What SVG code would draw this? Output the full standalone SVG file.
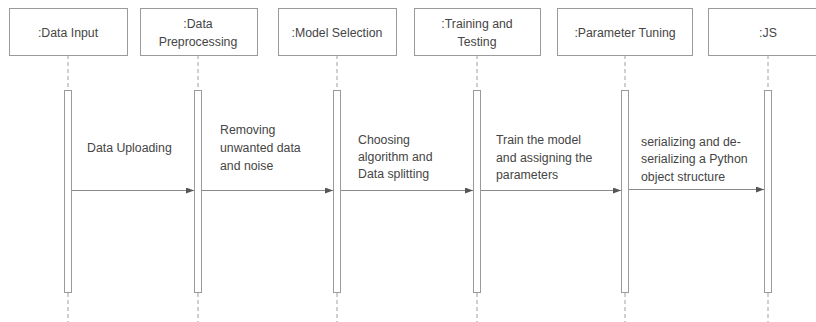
<svg xmlns="http://www.w3.org/2000/svg" width="816" height="322" viewBox="0 0 816 322">
<defs>
<style>
.box{fill:#fff;stroke:#9a9a9a;stroke-width:1}
.life{stroke:#a0a0a0;stroke-width:1;stroke-dasharray:4 3;fill:none}
.act{fill:#fff;stroke:#9a9a9a;stroke-width:1}
.msg{stroke:#8a8a8a;stroke-width:1;fill:none;marker-end:url(#ah)}
text{font-family:"Liberation Sans","Open Sans",sans-serif;font-size:12.3px;fill:#454545}
.c{text-anchor:middle}
</style>
<marker id="ah" viewBox="0 0 8 6" refX="8" refY="3" markerWidth="8" markerHeight="6" markerUnits="userSpaceOnUse" orient="auto">
<path d="M0,0 L8,3 L0,6 z" fill="#555"/>
</marker>
</defs>
<rect width="816" height="322" fill="#fff"/>
<g id="lifelines">
<line class="life" x1="68" y1="55" x2="68" y2="322"/>
<line class="life" x1="198" y1="55" x2="198" y2="322"/>
<line class="life" x1="337" y1="55" x2="337" y2="322"/>
<line class="life" x1="477" y1="55" x2="477" y2="322"/>
<line class="life" x1="625" y1="55" x2="625" y2="322"/>
<line class="life" x1="768" y1="55" x2="768" y2="322"/>
</g>
<g id="n1"><rect class="box" x="9.5" y="8.5" width="118" height="47"/><text class="c" x="68" y="37">:Data Input</text><rect class="act" x="64.5" y="90.5" width="7" height="202"/></g>
<g id="n2"><rect class="box" x="140.5" y="8.5" width="117" height="47"/><text class="c" x="198" y="28">:Data</text><text class="c" x="198" y="46">Preprocessing</text><rect class="act" x="194.5" y="90.5" width="7" height="202"/></g>
<g id="n3"><rect class="box" x="278.5" y="8.5" width="118" height="47"/><text class="c" x="337" y="37">:Model Selection</text><rect class="act" x="333.5" y="90.5" width="7" height="202"/></g>
<g id="n4"><rect class="box" x="414.5" y="8.5" width="126" height="47"/><text class="c" x="477" y="28">:Training and</text><text class="c" x="477" y="46">Testing</text><rect class="act" x="473.5" y="90.5" width="7" height="202"/></g>
<g id="n5"><rect class="box" x="557.5" y="8.5" width="135" height="47"/><text class="c" x="625" y="37">:Parameter Tuning</text><rect class="act" x="621.5" y="90.5" width="7" height="202"/></g>
<g id="n6"><rect class="box" x="708.5" y="8.5" width="120" height="47"/><text class="c" x="768" y="37">:JS</text><rect class="act" x="764.5" y="90.5" width="7" height="202"/></g>
<g id="connectors">
<line class="msg" x1="72" y1="190.5" x2="194" y2="190.5"/>
<line class="msg" x1="202" y1="190.5" x2="333" y2="190.5"/>
<line class="msg" x1="341" y1="190.5" x2="473" y2="190.5"/>
<line class="msg" x1="481" y1="190.5" x2="621" y2="190.5"/>
<line class="msg" x1="629" y1="189.5" x2="764" y2="189.5"/>
<text x="87" y="152">Data Uploading</text>
<text x="220" y="134">Removing</text>
<text x="220" y="152">unwanted data</text>
<text x="220" y="170">and noise</text>
<text x="358" y="144">Choosing</text>
<text x="358" y="161">algorithm and</text>
<text x="358" y="178">Data splitting</text>
<text x="496" y="144">Train the model</text>
<text x="496" y="162">and assigning the</text>
<text x="496" y="179">parameters</text>
<text x="641" y="146">serializing and de-</text>
<text x="641" y="163">serializing a Python</text>
<text x="641" y="181">object structure</text>
</g>
</svg>
